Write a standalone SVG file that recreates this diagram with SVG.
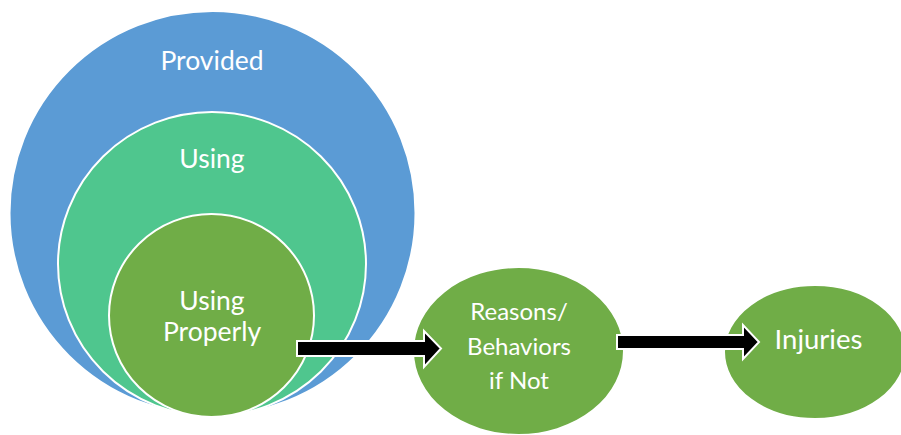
<svg xmlns="http://www.w3.org/2000/svg" width="901" height="435" viewBox="0 0 901 435">
  <style>
    .lbl { font-family: Lato, "Open Sans", "Liberation Sans", sans-serif; fill: #ffffff; text-anchor: middle; }
    .big { font-size: 26.5px; }
    .mid { font-size: 24px; }
    .inj { font-size: 27.5px; }
    .ring { stroke: #ffffff; stroke-width: 2; }
    .arrow { fill: #000000; stroke: #ffffff; stroke-width: 2; stroke-linejoin: miter; }
  </style>
  <rect width="901" height="435" fill="#ffffff"/>

  <g id="provided">
    <ellipse cx="212.5" cy="213" rx="203" ry="202" fill="#5B9BD5" class="ring"/>
    <text class="lbl big" x="212" y="70">Provided</text>
  </g>

  <g id="using">
    <ellipse cx="212" cy="264" rx="154" ry="152" fill="#4FC68E" class="ring"/>
    <text class="lbl big" x="212" y="168">Using</text>
  </g>

  <g id="using-properly">
    <ellipse cx="211.5" cy="315.5" rx="102.5" ry="101.5" fill="#70AD47" class="ring"/>
    <text class="lbl big" x="212" y="310">Using</text>
    <text class="lbl big" x="212" y="341">Properly</text>
  </g>

  <g id="reasons">
    <ellipse cx="518.5" cy="351" rx="105.5" ry="84" fill="#70AD47" class="ring"/>
    <text class="lbl mid" x="519" y="320">Reasons/</text>
    <text class="lbl mid" x="519" y="355">Behaviors</text>
    <text class="lbl mid" x="519" y="389">if Not</text>
  </g>

  <g id="injuries">
    <ellipse cx="815" cy="352" rx="91" ry="67" fill="#70AD47" class="ring"/>
    <text class="lbl inj" x="818.5" y="349">Injuries</text>
  </g>

  <g id="connectors">
    <polygon class="arrow" points="297,341 424,341 424,331 441,348.5 424,367 424,356 297,356"/>
    <polygon class="arrow" points="617,335 743,335 743,325 759,342 743,359 743,349 617,349"/>
  </g>
</svg>
